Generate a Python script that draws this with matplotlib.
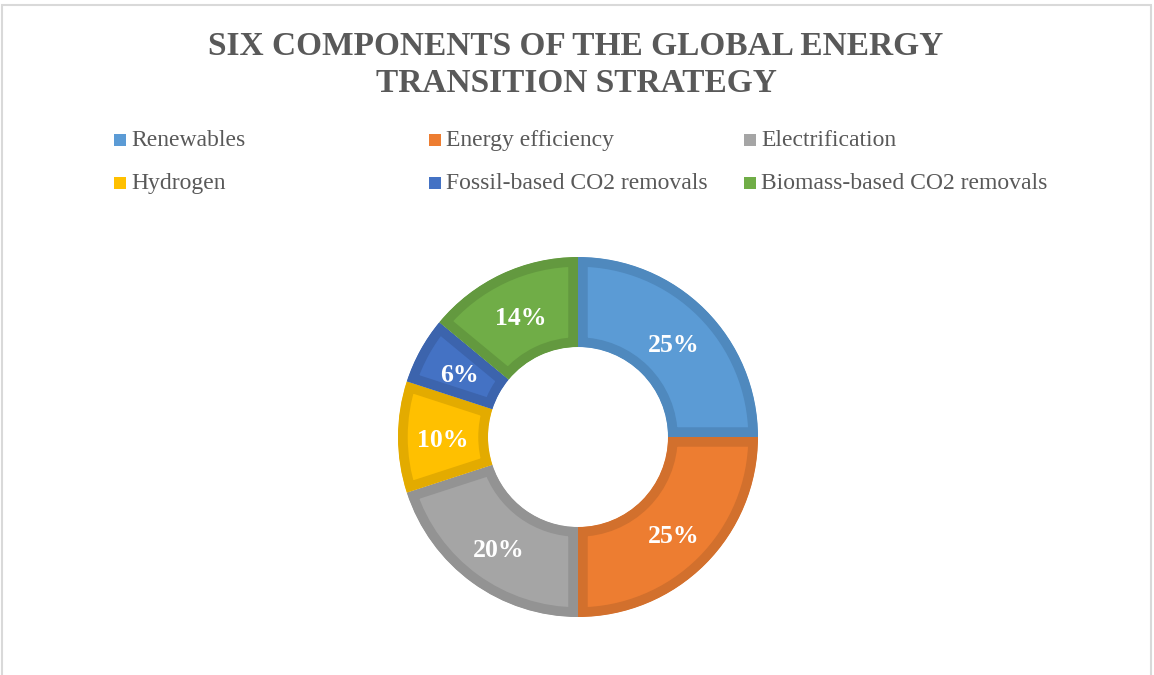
import matplotlib.pyplot as plt
from matplotlib.patches import Rectangle, Wedge
from matplotlib.transforms import offset_copy

plt.rcParams['font.family'] = ['Liberation Serif', 'DejaVu Serif']

components = ["Renewables", "Energy efficiency", "Electrification",
              "Hydrogen", "Fossil-based CO2 removals", "Biomass-based CO2 removals"]
shares = [25, 25, 20, 10, 6, 14]
fill_colors = ["#5B9BD5", "#ED7D31", "#A5A5A5", "#FFC000", "#4472C4", "#70AD47"]
edge_colors = ["#4F89BE", "#D2702D", "#939393", "#E3AB00", "#3C64AD", "#63993F"]

W, H = 1154, 675
fig = plt.figure(figsize=(W / 100, H / 100), dpi=100)

# chart border
fig.patches.append(Rectangle((2 / W, -0.01), (1151 - 2) / W, 1 - 5 / H + 0.01,
                             transform=fig.transFigure, fill=False,
                             edgecolor="#D9D9D9", linewidth=1.5))

fig.text(576 / W, 1 - 55 / H, "SIX COMPONENTS OF THE GLOBAL ENERGY",
         ha="center", va="baseline", fontsize=24, fontweight="bold", color="#595959")
fig.text(576 / W, 1 - 92 / H, "TRANSITION STRATEGY",
         ha="center", va="baseline", fontsize=24, fontweight="bold", color="#595959")

# legend, three columns
for i, (name, col) in enumerate(zip(components, fill_colors)):
    x0 = 114 + (i % 3) * 315
    yc = 140 + (i // 3) * 43
    fig.patches.append(Rectangle((x0 / W, 1 - (yc + 6) / H), 12 / W, 12 / H,
                                 transform=fig.transFigure, facecolor=col,
                                 edgecolor="none"))
    fig.text((x0 + 17) / W, 1 - (yc + 6) / H, name, ha="left", va="baseline",
             fontsize=17, color="#595959")

# donut: outer radius 180 px, centre (578, 437)
R = 180
ax = fig.add_axes([(578 - R) / W, 1 - (437 + R) / H, 2 * R / W, 2 * R / H])
wedges, texts, autotexts = ax.pie(
    shares, colors=fill_colors, startangle=90, counterclock=False,
    radius=1.0, autopct="%d%%", pctdistance=0.75,
    wedgeprops=dict(width=0.5, linewidth=14, antialiased=True),
    textprops=dict(color="white", fontsize=18.5, fontweight="bold"))
for w, ec in zip(wedges, edge_colors):
    w.set_edgecolor(ec)
    # keep the darker border inside each slice
    clip = Wedge(w.center, w.r, w.theta1, w.theta2, width=w.width,
                 transform=ax.transData)
    w.set_clip_path(clip)
    w.set_clip_on(True)
for t in autotexts:
    t.set_transform(offset_copy(ax.transData, fig, x=0, y=-4, units="dots"))
ax.set_xlim(-1, 1)
ax.set_ylim(-1, 1)
ax.set_aspect("equal")
ax.axis("off")

fig.savefig("out.png", dpi=100)
